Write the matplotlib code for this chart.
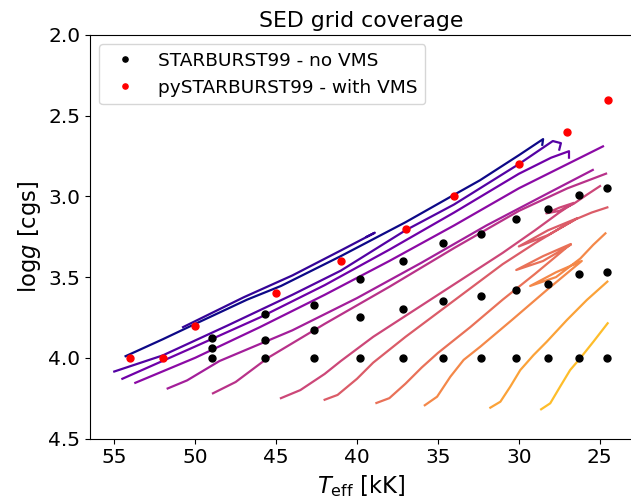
import matplotlib
matplotlib.use("Agg")
import matplotlib.pyplot as plt

# Grid points
sb99_teff = [48.98, 48.98, 48.98, 45.71, 45.71, 45.71, 42.66, 42.66, 42.66,
             39.81, 39.81, 39.81, 37.15, 37.15, 37.15, 34.67, 34.67, 34.67,
             32.36, 32.36, 32.36, 30.20, 30.20, 30.20, 28.18, 28.18, 28.18,
             26.30, 26.30, 26.30, 24.55, 24.55, 24.55]
sb99_logg = [3.88, 3.94, 4.00, 3.73, 3.89, 4.00, 3.67, 3.83, 4.00,
             3.51, 3.75, 4.00, 3.40, 3.70, 4.00, 3.29, 3.65, 4.00,
             3.23, 3.62, 4.00, 3.14, 3.58, 4.00, 3.08, 3.54, 4.00,
             2.99, 3.48, 4.00, 2.95, 3.47, 4.00]

vms_teff = [54, 52, 50, 45, 41, 37, 34, 30, 27, 24.5]
vms_logg = [4.0, 4.0, 3.8, 3.6, 3.4, 3.2, 3.0, 2.8, 2.6, 2.4]

# Evolutionary tracks (Teff [kK], logg)
track_A_T = [54.3, 52.0, 50.0, 46.8, 44.7, 41.0, 37.0, 34.0, 32.4, 30.0, 28.5, 28.55]
track_A_g = [3.99, 3.885, 3.79, 3.64, 3.555, 3.37, 3.16, 2.99, 2.90, 2.745, 2.645, 2.68]
track_B_T = [50.75, 47.0, 44.0, 41.0, 38.9, 39.4]
track_B_g = [3.81, 3.625, 3.49, 3.335, 3.225, 3.25]
track_C_T = [55.0, 52.0, 48.0, 44.0, 41.0, 37.0, 34.0, 30.0, 27.9, 27.4, 27.5]
track_C_g = [4.085, 3.985, 3.80, 3.61, 3.46, 3.21, 3.05, 2.80, 2.657, 2.67, 2.71]
track_D_T = [54.5, 50.0, 46.0, 42.0, 38.0, 34.0, 30.0, 28.0, 26.9, 26.9]
track_D_g = [4.13, 3.93, 3.75, 3.55, 3.33, 3.10, 2.86, 2.76, 2.72, 2.76]
track_E_T = [53.7, 50.0, 46.0, 42.0, 38.0, 34.0, 30.0, 27.0, 24.8]
track_E_g = [4.155, 4.0, 3.81, 3.61, 3.40, 3.18, 2.95, 2.80, 2.69]
track_F_T = [51.7, 50.5, 48.5, 44.0, 40.0, 36.0, 32.0, 28.0, 25.43]
track_F_g = [4.19, 4.14, 4.02, 3.83, 3.63, 3.41, 3.18, 2.97, 2.836]
track_G_T = [48.9, 47.5, 45.5, 42.0, 38.0, 34.0, 30.0, 27.0, 24.61]
track_G_g = [4.22, 4.15, 4.00, 3.79, 3.56, 3.32, 3.09, 2.95, 2.859]
track_H_T = [44.7, 43.5, 42.0, 41.0, 39.0, 37.0, 35.0, 33.0, 31.0, 29.0, 27.5, 26.6,
             27.5, 28.3, 27.5, 26.6, 25.8, 24.98]
track_H_g = [4.25, 4.20, 4.10, 4.02, 3.87, 3.74, 3.61, 3.48, 3.35, 3.21, 3.10, 3.04,
             3.07, 3.105, 3.09, 3.045, 2.99, 2.936]
track_I_T = [42.0, 41.2, 40.0, 39.0, 37.0, 35.0, 33.0, 31.0, 29.0, 27.5, 26.41,
             28.2, 30.0, 28.2, 26.45, 25.5, 24.53]
track_I_g = [4.26, 4.23, 4.13, 4.03, 3.87, 3.72, 3.57, 3.42, 3.29, 3.20, 3.136,
             3.21, 3.31, 3.24, 3.14, 3.10, 3.068]
track_J_T = [38.8, 38.0, 37.0, 36.0, 35.0, 33.0, 31.0, 29.0, 27.8, 26.79,
             28.5, 30.16, 28.5, 26.8]
track_J_g = [4.28, 4.25, 4.16, 4.06, 3.97, 3.81, 3.64, 3.48, 3.38, 3.295,
             3.37, 3.456, 3.40, 3.30]
track_K_T = [35.81, 35.05, 34.23, 33.41, 32.38, 30.43, 28.27, 26.11,
             27.7, 29.3, 27.7, 26.2, 25.4, 24.65]
track_K_g = [4.294, 4.241, 4.117, 4.013, 3.931, 3.766, 3.58, 3.40,
             3.47, 3.555, 3.50, 3.385, 3.30, 3.229]
track_L_T = [31.76, 31.14, 30.53, 29.91, 29.09, 28.27, 27.03, 25.8, 24.53]
track_L_g = [4.309, 4.272, 4.179, 4.076, 3.983, 3.9, 3.766, 3.642, 3.528]
track_M_T = [28.62, 28.06, 27.45, 26.83, 26.21, 25.39, 24.51]
track_M_g = [4.319, 4.282, 4.179, 4.076, 4.003, 3.9, 3.786]

tracks = [
    (track_A_T, track_A_g), (track_B_T, track_B_g), (track_C_T, track_C_g),
    (track_D_T, track_D_g), (track_E_T, track_E_g), (track_F_T, track_F_g),
    (track_G_T, track_G_g), (track_H_T, track_H_g), (track_I_T, track_I_g),
    (track_J_T, track_J_g), (track_K_T, track_K_g), (track_L_T, track_L_g),
    (track_M_T, track_M_g),
]

fig = plt.figure(figsize=(6.31, 5.01), dpi=100)
ax = fig.add_axes([90 / 631, 1 - 438.5 / 501, (632.1 - 90) / 631, (438.5 - 35) / 501])

cmap = plt.cm.plasma
n = len(tracks)
for i, (t, g) in enumerate(tracks):
    ax.plot(t, g, color=cmap(i / (n + 1)), lw=1.6)

ax.plot(sb99_teff, sb99_logg, 'o', color='black', ms=5, ls='none',
        label='STARBURST99 - no VMS')
ax.plot(vms_teff, vms_logg, 'o', color='red', ms=5, ls='none',
        label='pySTARBURST99 - with VMS')

ax.set_xlim(56.5, 23.0)
ax.set_ylim(4.5, 2.0)
ax.set_xticks([55, 50, 45, 40, 35, 30, 25])
ax.set_yticks([2.0, 2.5, 3.0, 3.5, 4.0, 4.5])
ax.tick_params(labelsize=14.5)
ax.set_xlabel(r'$T_{\rm eff}$ [kK]', fontsize=16.3)
ax.set_ylabel(r'log$g$ [cgs]', fontsize=16.3)
ax.set_title('SED grid coverage', fontsize=15.8)
ax.legend(loc='upper left', fontsize=13.3, markerscale=0.75)

fig.savefig('out.png', dpi=100)
